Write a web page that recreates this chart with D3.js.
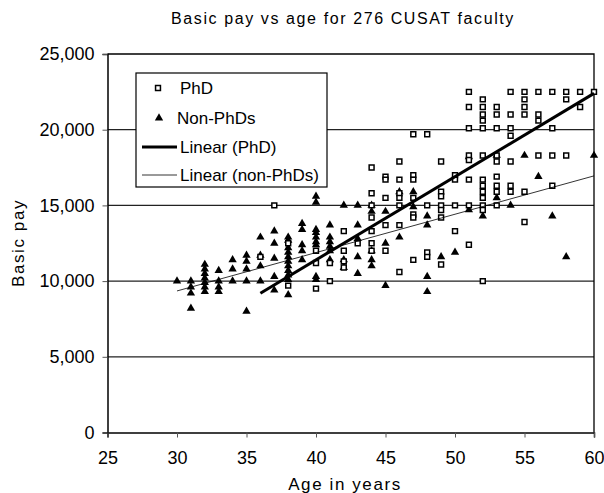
<!DOCTYPE html>
<html>
<head>
<meta charset="utf-8">
<script src="https://cdn.jsdelivr.net/npm/d3@7.9.0/dist/d3.min.js"></script>
<style>
  body { margin: 0; background: #fff; }
  text { font-family: Arial, "Liberation Sans", sans-serif; fill: #000; }
</style>
</head>
<body>
<svg id="chart" width="604" height="493"></svg>
<script>
// PhD faculty: [age, basic pay]
const phdAges = [36, 37, 38, 38, 40, 40, 40, 41, 41, 42, 42, 42, 42, 43,
  44, 44, 44, 44, 44, 44, 44,
  45, 45, 45, 45, 45,
  46, 46, 46, 46, 46, 46, 46,
  47, 47, 47, 47, 47, 47, 47,
  48, 48, 48, 48,
  49, 49, 49, 49, 49, 49, 49,
  50, 50, 50, 50,
  51, 51, 51, 51, 51, 51, 51, 51,
  52, 52, 52, 52, 52, 52, 52, 52, 52, 52, 52, 52, 52,
  53, 53, 53, 53, 53, 53, 53, 53, 53,
  54, 54, 54, 54, 54, 54, 54,
  55, 55, 55, 55, 55, 55,
  56, 56, 56, 56,
  57, 57, 57, 57,
  58, 58, 58,
  59, 59,
  60];
const phdPay = [11600, 15000, 12500, 9700, 12000, 11200, 9500, 11200, 10000, 13300, 12000, 11300, 10900, 12500,
  17500, 15800, 15000, 14200, 13300, 12500, 12000,
  16900, 16700, 15500, 13700, 12000,
  17900, 16700, 15800, 15500, 15000, 13700, 10600,
  19700, 17000, 16700, 15500, 14400, 14200, 11400,
  19700, 15000, 11900, 11600,
  17900, 15900, 15600, 15000, 14700, 14200, 11100,
  17000, 16700, 15000, 13300,
  22500, 21500, 20100, 18300, 18000, 16700, 15000, 12400,
  22000, 21500, 21000, 20600, 20100, 18300, 16700, 16300, 15900, 15500, 15000, 14700, 10000,
  21500, 21000, 20100, 18300, 17900, 16900, 16300, 15900, 15000,
  22500, 21000, 20100, 19600, 17900, 16300, 15900,
  22500, 22000, 21500, 21000, 15900, 13900,
  22500, 21000, 20600, 18300,
  22500, 20100, 18300, 16300,
  22500, 22000, 18300,
  22500, 21500,
  22500];

// Non-PhD faculty: [age, basic pay]
const nonAges = [30,
  31, 31, 31, 31,
  32, 32, 32, 32, 32, 32, 32,
  33, 33, 33, 33,
  34, 34, 34,
  35, 35, 35, 35, 35,
  36, 36, 36, 36,
  37, 37, 37, 37, 37,
  38, 38, 38, 38, 38, 38, 38, 38, 38, 38, 38,
  39, 39, 39, 39, 39,
  40, 40, 40, 40, 40, 40, 40, 40, 40,
  41, 41, 41, 41, 41, 41,
  42, 42, 42,
  43, 43, 43, 43, 43,
  44, 44, 44, 44, 44,
  45, 45, 45,
  46, 46,
  47, 47,
  48, 48, 48, 48,
  49, 50,
  51, 51, 52, 53, 53, 54, 55, 56, 57, 58, 60];
const nonPay = [10000,
  10000, 9600, 9200, 8200,
  11100, 10800, 10500, 10200, 9900, 9600, 9300,
  10700, 10000, 9600, 9300,
  11400, 10800, 10000,
  11700, 11300, 10800, 10000, 8000,
  12900, 11700, 11000, 10000,
  13300, 12500, 11500, 10300, 9400,
  12900, 12700, 12200, 11900, 11600, 11300, 11000, 10700, 10400, 10100, 9100,
  13800, 13400, 12400, 12000, 11400,
  15600, 15200, 13400, 13200, 12900, 12600, 12400, 10300, 10100,
  13700, 12900, 12600, 12300, 12000, 11400,
  15000, 11400, 10900,
  15000, 13700, 12800, 11600, 10500,
  15000, 14600, 12000, 11400, 11000,
  14600, 12500, 9700,
  15900, 12900,
  15900, 14900,
  14300, 13700, 10300, 9300,
  11600, 11900,
  18200, 14700, 14300, 18300, 15500, 15000, 18300, 16900, 14300, 11600, 18300];

// Linear trend lines as shown (endpoints)
const trendPhdAge = [36, 60];
const trendPhdPay = [9200, 22400];
const trendNonAge = [30, 60];
const trendNonPay = [9350, 16950];

const xTicks = [25, 30, 35, 40, 45, 50, 55, 60];
const yTicks = [0, 5000, 10000, 15000, 20000, 25000];
const legendLabels = ["PhD", "Non-PhDs", "Linear (PhD)", "Linear (non-PhDs)"];

const svg = d3.select("#chart");
const x = d3.scaleLinear().domain([25, 60]).range([107.5, 594]);
const y = d3.scaleLinear().domain([0, 25000]).range([432.5, 54]);

// gridlines
svg.append("g")
  .selectAll("line")
  .data(yTicks.slice(1, -1))
  .join("line")
  .attr("x1", x(25)).attr("x2", x(60))
  .attr("y1", d => y(d)).attr("y2", d => y(d))
  .attr("stroke", "#222").attr("stroke-width", 1.3);

// top & right frame
svg.append("path")
  .attr("d", `M${x(25)},${y(25000)}H${x(60)}V${y(0)}`)
  .attr("fill", "none").attr("stroke", "#000").attr("stroke-width", 1.3);

const yAxis = svg.append("g")
  .attr("transform", `translate(${x(25)},0)`)
  .call(d3.axisLeft(y).tickValues(yTicks).tickFormat(d3.format(",")).tickSize(5).tickPadding(8));
const xAxis = svg.append("g")
  .attr("transform", `translate(0,${y(0)})`)
  .call(d3.axisBottom(x).tickValues(xTicks).tickSize(5).tickPadding(14));
[xAxis, yAxis].forEach(g => {
  g.select(".domain").attr("stroke", "#000").attr("stroke-width", 1.5);
  g.selectAll(".tick line").attr("stroke", "#555");
  g.selectAll("text").style("font-size", "18px").style("font-family", "Arial, 'Liberation Sans', sans-serif");
});

const sq = d3.symbol().type(d3.symbolSquare).size(24);
const tri = d3.symbol().type(d3.symbolTriangle).size(30);

// non-PhD triangles
svg.append("g")
  .selectAll("path")
  .data(nonAges.map((a, i) => [a, nonPay[i]]))
  .join("path")
  .attr("d", tri)
  .attr("transform", d => `translate(${x(d[0])},${y(d[1])})`)
  .attr("fill", "#000");

// PhD squares
svg.append("g")
  .selectAll("path")
  .data(phdAges.map((a, i) => [a, phdPay[i]]))
  .join("path")
  .attr("d", sq)
  .attr("transform", d => `translate(${x(d[0])},${y(d[1])})`)
  .attr("fill", "#fff").attr("stroke", "#000").attr("stroke-width", 1.5);

// trend lines
const line = d3.line().x(d => x(d[0])).y(d => y(d[1]));
svg.append("path")
  .attr("d", line(trendNonAge.map((a, i) => [a, trendNonPay[i]])))
  .attr("stroke", "#000").attr("stroke-width", 0.8).attr("fill", "none");
svg.append("path")
  .attr("d", line(trendPhdAge.map((a, i) => [a, trendPhdPay[i]])))
  .attr("stroke", "#000").attr("stroke-width", 3).attr("fill", "none");

// legend
const lg = svg.append("g");
lg.append("rect")
  .attr("x", 136).attr("y", 73).attr("width", 191).attr("height", 114)
  .attr("fill", "#fff").attr("stroke", "#000").attr("stroke-width", 1.2);
const rowY = [88, 118, 147, 175];
lg.append("path").attr("d", sq).attr("transform", `translate(158,${rowY[0]})`)
  .attr("fill", "#fff").attr("stroke", "#000").attr("stroke-width", 1.5);
lg.append("path").attr("d", tri).attr("transform", `translate(159,${rowY[1]})`).attr("fill", "#000");
lg.append("line").attr("x1", 142).attr("x2", 177).attr("y1", rowY[2]).attr("y2", rowY[2])
  .attr("stroke", "#000").attr("stroke-width", 3);
lg.append("line").attr("x1", 142).attr("x2", 177).attr("y1", rowY[3]).attr("y2", rowY[3])
  .attr("stroke", "#000").attr("stroke-width", 0.8);
lg.selectAll("text.lab")
  .data(legendLabels)
  .join("text")
  .attr("class", "lab")
  .attr("x", (d, i) => i === 1 ? 177 : 180)
  .attr("y", (d, i) => rowY[i])
  .attr("dy", "0.35em")
  .style("font-size", "17px")
  .text(d => d);

// titles
svg.append("text")
  .attr("x", 343).attr("y", 24)
  .attr("text-anchor", "middle")
  .style("font-size", "16px").style("letter-spacing", "1.6px")
  .text("Basic pay vs age for 276 CUSAT faculty");
svg.append("text")
  .attr("x", 345).attr("y", 490)
  .attr("text-anchor", "middle")
  .style("font-size", "17px").style("letter-spacing", "1.6px")
  .text("Age in years");
svg.append("text")
  .attr("transform", "translate(24,243) rotate(-90)")
  .attr("text-anchor", "middle")
  .style("font-size", "17px").style("letter-spacing", "1.6px")
  .text("Basic pay");
</script>
</body>
</html>
